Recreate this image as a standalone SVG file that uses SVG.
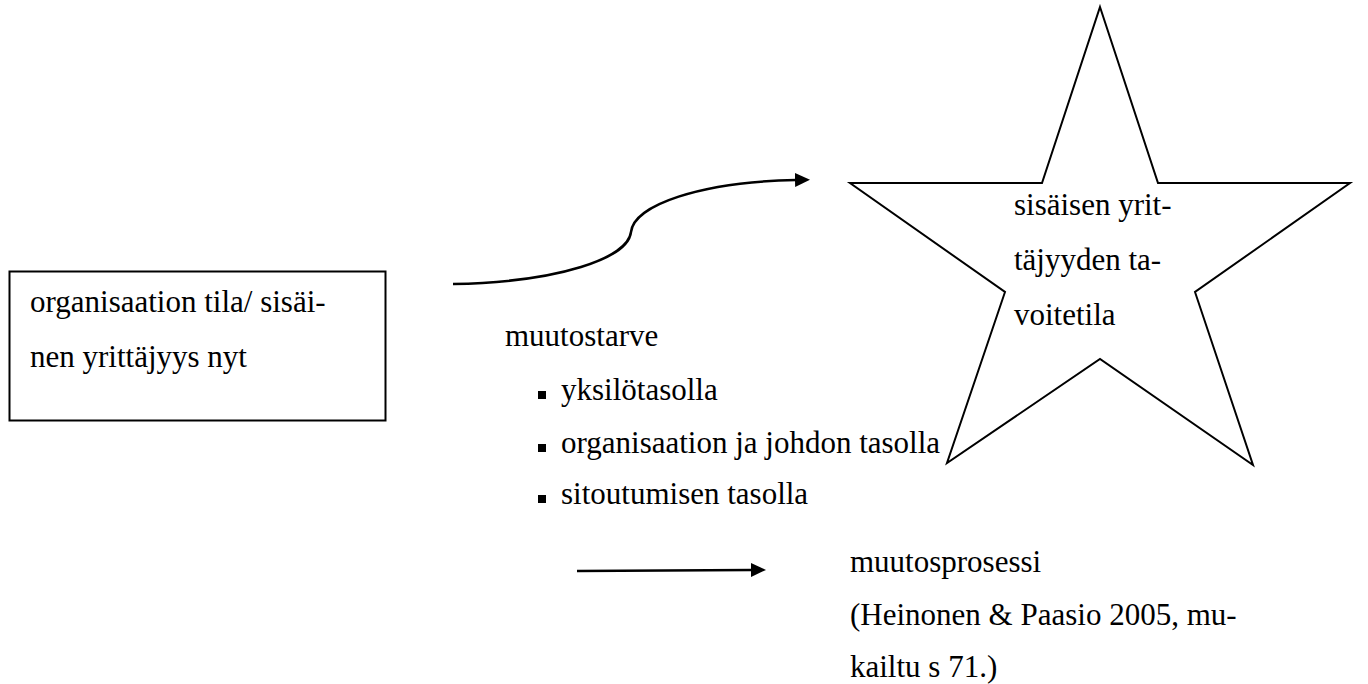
<svg xmlns="http://www.w3.org/2000/svg" width="1368" height="684" viewBox="0 0 1368 684" font-family="'Liberation Serif', 'Times New Roman', serif">
<defs>
<style>
text{font-family:"Liberation Serif","Times New Roman",serif;font-size:31px;fill:#000;font-weight:normal}
.ln{fill:none;stroke:#000;stroke-width:2.5}
.bl{fill:#000}
</style>
<marker id="ah" markerUnits="userSpaceOnUse" markerWidth="16" markerHeight="16" refX="1" refY="7" orient="auto">
<path d="M0,0 L15,7 L0,14 Z" fill="#000"/>
</marker>
</defs>
<rect width="1368" height="684" fill="#fff"/>
<g id="box-now">
<rect x="9.5" y="271.5" width="376" height="149" fill="#fff" stroke="#000" stroke-width="2"/>
<text x="30" y="312">organisaation tila/ sisäi-</text>
<text x="30" y="367">nen yrittäjyys nyt</text>
</g>
<g id="star-goal">
<polygon points="1100,7 1158,183 1350,183 1195,292 1253,465 1100,359 947,463 1005,292 850,183 1042,183" fill="#fff" stroke="#000" stroke-width="2"/>
<text x="1014" y="215">sisäisen yrit-</text>
<text x="1014" y="270">täjyyden ta-</text>
<text x="1014" y="325">voitetila</text>
</g>
<g id="change-need">
<text x="505" y="346">muutostarve</text>
<rect class="bl" x="538" y="391" width="8" height="8"/>
<text x="561" y="400">yksilötasolla</text>
<rect class="bl" x="538" y="444" width="8" height="8"/>
<text x="561" y="453">organisaation ja johdon tasolla</text>
<rect class="bl" x="538" y="495" width="8" height="8"/>
<text x="561" y="504">sitoutumisen tasolla</text>
</g>
<g id="change-process">
<text x="850" y="572">muutosprosessi</text>
<text x="850" y="625">(Heinonen &amp; Paasio 2005, mu-</text>
<text x="850" y="677">kailtu s 71.)</text>
</g>
<g id="connectors">
<path class="ln" d="M453,284 C560,282 628,258 631,232 C634,205 700,182 796,180" marker-end="url(#ah)"/>
<path class="ln" d="M577,571 L752,570" marker-end="url(#ah)"/>
</g>
</svg>
